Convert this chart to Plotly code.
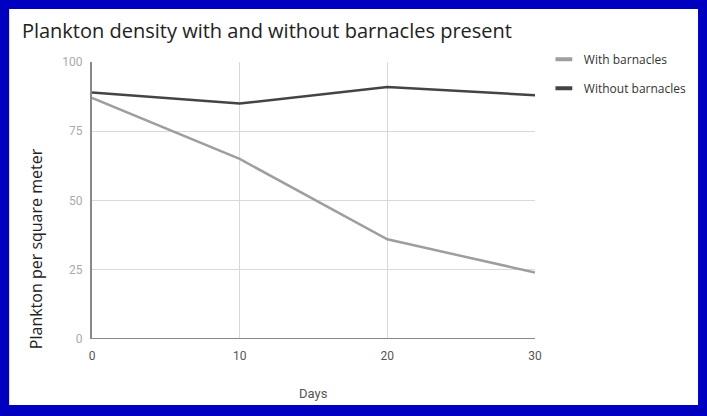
import plotly.graph_objects as go

days = [0, 10, 20, 30]
with_barnacles = [87, 65, 36, 24]
without_barnacles = [89, 85, 91, 88]
y_ticks = [0, 25, 50, 75, 100]
series = [
    ("With barnacles", with_barnacles, "#9e9e9e"),
    ("Without barnacles", without_barnacles, "#444444"),
]

font = "Open Sans"
tick_font = "Roboto"

fig = go.Figure()
for name, vals, color in series:
    fig.add_trace(go.Scatter(x=days, y=vals, mode="lines", name=name,
                             line=dict(color=color, width=2.5), showlegend=False))
    # short thick legend swatch like the sheets chart
    fig.add_trace(go.Scatter(x=[None], y=[None], mode="markers", name=name,
                             legendgroup=name,
                             marker=dict(symbol="line-ew-open", size=12, color=color,
                                         line=dict(color=color, width=4))))

# white card on the blue frame
fig.add_shape(type="rect", xref="paper", yref="paper", layer="below",
              x0=-0.187, x1=1.368, y0=-0.238, y1=1.191,
              fillcolor="white", line=dict(width=0))
# bottom axis line
fig.add_shape(type="line", xref="paper", yref="y", x0=0, x1=1, y0=0, y1=0,
              line=dict(color="#888888", width=2))

fig.add_annotation(text="Plankton per square meter", textangle=-90,
                   xref="paper", yref="paper", x=-0.126, y=0.325,
                   xanchor="center", yanchor="middle",
                   showarrow=False, font=dict(family=font, size=16, color="#222222"))
fig.add_annotation(text="Days", xref="paper", yref="paper", x=0.5, y=-0.195,
                   xanchor="center", yanchor="middle",
                   showarrow=False, font=dict(family=tick_font, size=13, color="#555555"))

fig.update_layout(
    width=707, height=416,
    margin=dict(l=92, r=172, t=62, b=77),
    paper_bgcolor="#0000c0",
    plot_bgcolor="white",
    font=dict(family=font, color="#222222"),
    title=dict(text="Plankton density with and without barnacles present",
               x=0.031, xanchor="left", y=0.925, yanchor="middle",
               font=dict(size=20, color="#222222")),
    legend=dict(x=1.02, y=1.062, xanchor="left", yanchor="top",
                font=dict(size=12, color="#333333"), tracegroupgap=10,
                bgcolor="rgba(0,0,0,0)"),
    showlegend=True,
)
fig.update_xaxes(range=[0, 30], tickvals=days, showgrid=True, gridcolor="#d9d9d9",
                 zeroline=False, showline=False, ticks="", ticklabelstandoff=8,
                 tickfont=dict(family=tick_font, size=12, color="#555555"))
fig.update_yaxes(range=[0, 100], tickvals=y_ticks, showgrid=True, gridcolor="#d9d9d9",
                 zeroline=False, showline=True, linecolor="#888888", linewidth=2,
                 ticks="", ticklabelstandoff=5,
                 tickfont=dict(family=tick_font, size=12, color="#aaaaaa"))

fig.write_html("out.html", config={"displayModeBar": False},
               post_script="document.body.style.margin='0';")
